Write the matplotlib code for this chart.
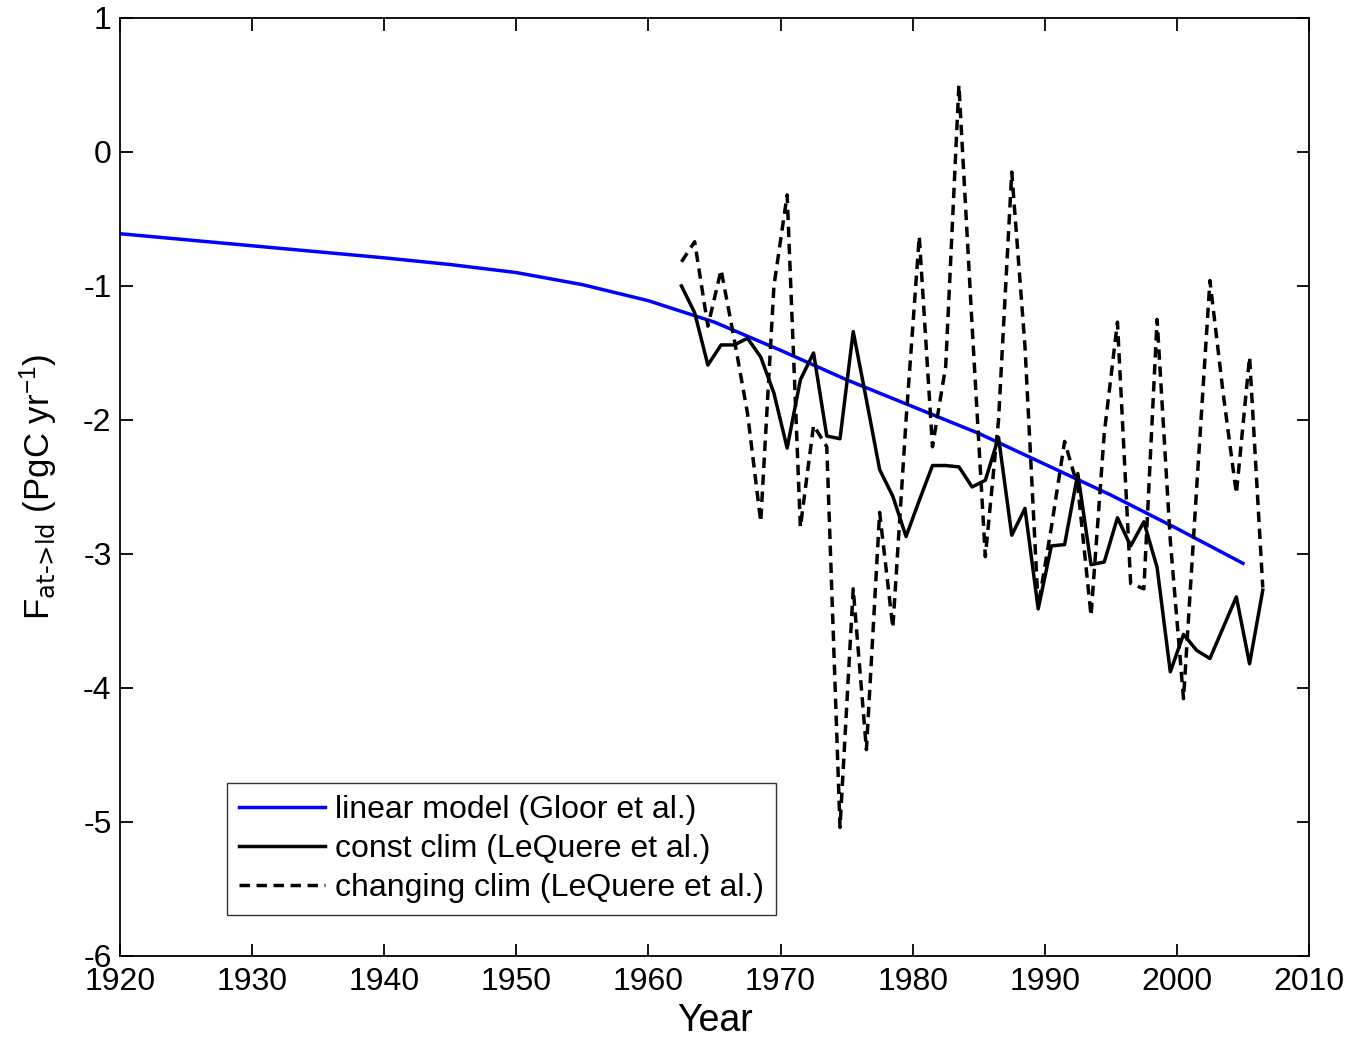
"""
plot.py — Atmosphere-to-land carbon flux: linear model vs LeQuere estimates.

Output:
    out.png
"""

import matplotlib
matplotlib.use("Agg")
import matplotlib.pyplot as plt
import numpy as np

# ── data ──────────────────────────────────────────────────────────────────────

# linear model (Gloor et al.), smooth curve
GLOOR_YEARS = [1920, 1925, 1930, 1935, 1940, 1945, 1950, 1955, 1960,
               1965, 1970, 1975, 1980, 1985, 1990, 1995, 2000, 2005]
GLOOR_FLUX = [-0.61, -0.655, -0.70, -0.745, -0.79, -0.84, -0.90, -0.99, -1.11,
              -1.27, -1.48, -1.70, -1.90, -2.10, -2.33, -2.56, -2.81, -3.07]

# LeQuere et al. annual values (mid-year)
LQ_YEARS = [1962.5, 1963.5, 1964.5, 1965.5, 1966.5, 1967.5, 1968.5, 1969.5,
            1970.5, 1971.5, 1972.5, 1973.5, 1974.5, 1975.5, 1976.5, 1977.5,
            1978.5, 1979.5, 1980.5, 1981.5, 1982.5, 1983.5, 1984.5, 1985.5,
            1986.5, 1987.5, 1988.5, 1989.5, 1990.5, 1991.5, 1992.5, 1993.5,
            1994.5, 1995.5, 1996.5, 1997.5, 1998.5, 1999.5, 2000.5, 2001.5,
            2002.5, 2003.5, 2004.5, 2005.5, 2006.5]

CONST_CLIM = [-1.00, -1.20, -1.59, -1.44, -1.44, -1.39, -1.53, -1.80,
              -2.21, -1.70, -1.50, -2.12, -2.14, -1.34, -1.85, -2.37,
              -2.57, -2.87, -2.60, -2.34, -2.34, -2.35, -2.50, -2.45,
              -2.13, -2.86, -2.66, -3.41, -2.94, -2.93, -2.40, -3.08,
              -3.06, -2.73, -2.94, -2.76, -3.10, -3.88, -3.60, -3.72,
              -3.78, -3.55, -3.32, -3.82, -3.27]

CHANGING_CLIM = [-0.82, -0.67, -1.30, -0.88, -1.40, -1.95, -2.76, -1.00,
                 -0.32, -2.80, -2.04, -2.20, -5.04, -3.26, -4.46, -2.69,
                 -3.55, -2.00, -0.63, -2.20, -1.60, 0.50, -1.30, -3.02,
                 -2.00, -0.15, -1.45, -3.39, -2.80, -2.16, -2.50, -3.46,
                 -2.10, -1.27, -3.22, -3.26, -1.25, -2.90, -4.08, -2.50,
                 -0.96, -1.80, -2.55, -1.53, -3.25]

X_TICKS = list(range(1920, 2011, 10))
Y_TICKS = list(range(-6, 2))

FONT = ["Liberation Sans", "DejaVu Sans"]


# ── figure ────────────────────────────────────────────────────────────────────

def main() -> None:
    plt.rcParams["font.family"] = FONT
    plt.rcParams["mathtext.default"] = "regular"
    plt.rcParams["axes.unicode_minus"] = False

    fig = plt.figure(figsize=(13.63, 10.45), dpi=100)
    ax = fig.add_axes([0.088, 0.0852, 0.8724, 0.8976])

    ax.plot(GLOOR_YEARS, GLOOR_FLUX, color="#0000ff", lw=2.5,
            label="linear model (Gloor et al.)")
    ax.plot(LQ_YEARS, CONST_CLIM, color="black", lw=2.5,
            label="const clim (LeQuere et al.)")
    ax.plot(LQ_YEARS, CHANGING_CLIM, color="black", lw=2.5,
            dashes=(3.0, 1.9), label="changing clim (LeQuere et al.)")

    ax.set_xlim(1920, 2010)
    ax.set_ylim(-6, 1)
    ax.set_xticks(X_TICKS)
    ax.set_yticks(Y_TICKS)
    ax.tick_params(direction="in", length=9, width=1.3, labelsize=23,
                   top=True, right=True)
    ax.tick_params(axis="x", pad=8)
    ax.tick_params(axis="y", pad=6)
    for sp in ax.spines.values():
        sp.set_linewidth(1.3)

    ax.set_xlabel("Year", fontsize=27, labelpad=4)
    ax.set_ylabel(r"F$_{\text{at->ld}}$ (PgC yr$^{-1}$)", fontsize=25,
                  labelpad=17)

    leg = ax.legend(loc="lower left", bbox_to_anchor=(0.09, 0.0437),
                    borderaxespad=0, fontsize=23, handlelength=2.7,
                    handletextpad=0.3, labelspacing=0.28, borderpad=0.38,
                    fancybox=False, framealpha=1)
    leg.get_frame().set_edgecolor("#333333")
    leg.get_frame().set_linewidth(1.0)

    fig.savefig("out.png", dpi=100)
    plt.close(fig)


if __name__ == "__main__":
    main()
